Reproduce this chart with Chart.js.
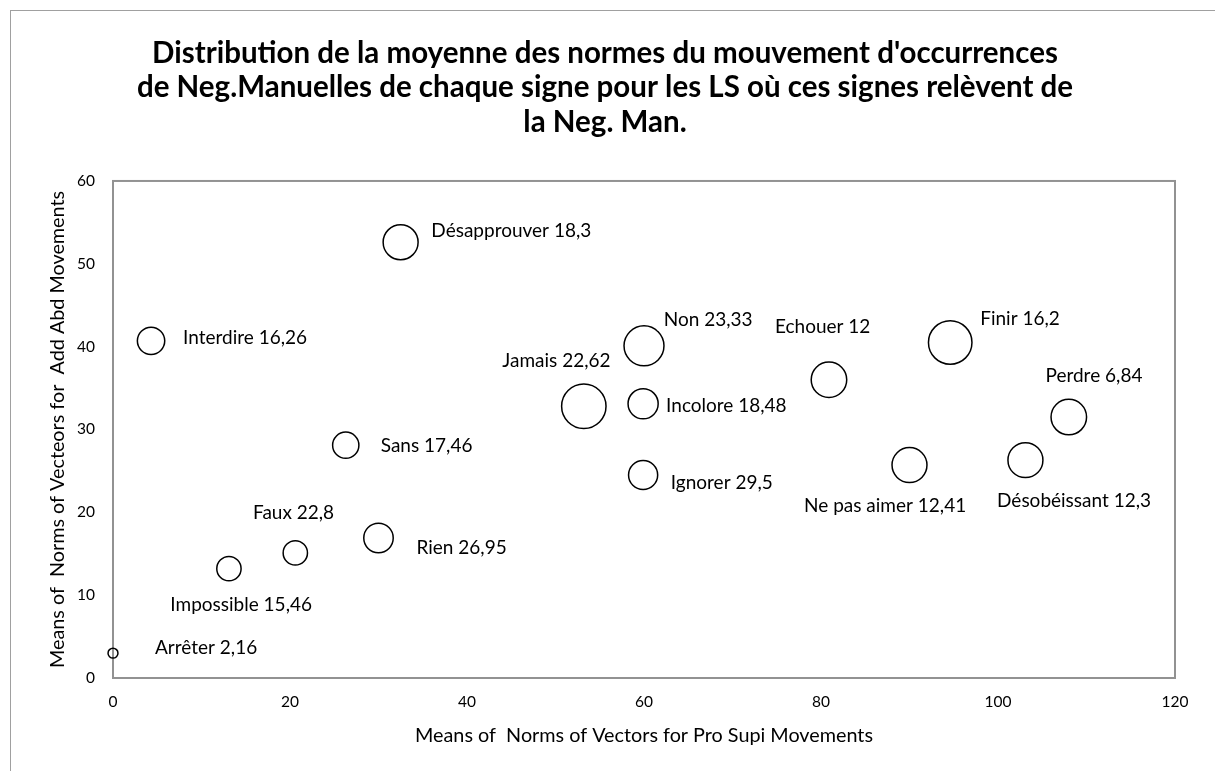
<!DOCTYPE html>
<html>
<head>
<meta charset="utf-8">
<script src="https://cdn.jsdelivr.net/npm/chart.js@4.4.1/dist/chart.umd.min.js"></script>
<style>
  html, body { margin: 0; padding: 0; background: #ffffff; }
  canvas { display: block; }
</style>
</head>
<body>
<canvas id="chart" width="1215" height="771"></canvas>
<script>
// Signs and their mean movement norms
const signes = ['Arrêter', 'Impossible', 'Faux', 'Rien', 'Sans', 'Interdire', 'Désapprouver', 'Jamais',
  'Non', 'Incolore', 'Ignorer', 'Echouer', 'Finir', 'Perdre', 'Ne pas aimer', 'Désobéissant'];
const valeursEtiquettes = ['2,16', '15,46', '22,8', '26,95', '17,46', '16,26', '18,3', '22,62',
  '23,33', '18,48', '29,5', '12', '16,2', '6,84', '12,41', '12,3'];
const proSupi = [0, 13.1, 20.6, 30.0, 26.3, 4.3, 32.5, 53.2, 60.0, 59.9, 59.9, 80.9, 94.6, 108.0, 90.0, 103.1];
const addAbd = [3.0, 13.2, 15.1, 16.9, 28.1, 40.7, 52.6, 32.8, 40.1, 33.1, 24.5, 36.0, 40.5, 31.5, 25.7, 26.3];
const tailles = [5, 30, 30, 44, 35, 38, 62, 100, 81, 46, 43, 64, 96, 64, 62, 62];
const xTicks = [0, 20, 40, 60, 80, 100, 120];
const yTicks = [0, 10, 20, 30, 40, 50, 60];

// Label placement relative to each bubble: [dx, dy, textAlign]
const placement = [
  [42, -5, 'left'], [-58.6, 36.3, 'left'], [-42.3, -40, 'left'], [38, 10, 'left'],
  [35, 0.7, 'left'], [32, -3, 'left'], [30.7, -11.7, 'left'], [26.7, -45.7, 'right'],
  [19.7, -26, 'left'], [23, 2, 'left'], [27.7, 7.7, 'left'], [-54, -52.6, 'left'],
  [30, -24, 'left'], [-23.3, -40.7, 'left'], [56.7, 41, 'right'], [-28.4, 41, 'left']
];

const FONT = 'Lato, "Open Sans", sans-serif';
const MAX_RADIUS = 22.2;
const maxTaille = Math.max(...tailles);

const points = signes.map((s, i) => ({
  x: proSupi[i],
  y: addAbd[i],
  r: MAX_RADIUS * Math.sqrt(tailles[i] / maxTaille)
}));

const backgroundAndFrames = {
  id: 'backgroundAndFrames',
  beforeDraw(chart) {
    const ctx = chart.ctx;
    ctx.save();
    ctx.fillStyle = '#ffffff';
    ctx.fillRect(0, 0, chart.width, chart.height);
    ctx.strokeStyle = '#a0a0a0';
    ctx.lineWidth = 1;
    ctx.strokeRect(10.5, 10.5, chart.width + 20, chart.height + 20);
    ctx.restore();
  },
  beforeDatasetsDraw(chart) {
    const { ctx, chartArea: a } = chart;
    ctx.save();
    ctx.strokeStyle = '#929292';
    ctx.lineWidth = 2;
    ctx.strokeRect(a.left, a.top, a.right - a.left, a.bottom - a.top);
    ctx.restore();
  }
};

const bubbleLabels = {
  id: 'bubbleLabels',
  afterDatasetsDraw(chart) {
    const ctx = chart.ctx;
    const meta = chart.getDatasetMeta(0);
    ctx.save();
    ctx.font = '19px ' + FONT;
    ctx.textBaseline = 'middle';
    meta.data.forEach((el, i) => {
      const [dx, dy, align] = placement[i];
      const text = signes[i] + ' ' + valeursEtiquettes[i];
      const w = ctx.measureText(text).width;
      const x = el.x + dx;
      const y = el.y + dy;
      const left = align === 'right' ? x - w : x;
      ctx.fillStyle = '#ffffff';
      ctx.fillRect(left - 6, y - 11, w + 12, 22);
      ctx.fillStyle = '#000000';
      ctx.textAlign = align;
      ctx.fillText(text, x, y);
    });
    ctx.restore();
  }
};

new Chart(document.getElementById('chart'), {
  type: 'bubble',
  data: {
    datasets: [{
      data: points,
      backgroundColor: 'rgba(0,0,0,0)',
      borderColor: '#000000',
      borderWidth: 1.5,
      clip: false
    }]
  },
  options: {
    responsive: false,
    devicePixelRatio: 1,
    animation: false,
    events: [],
    layout: { padding: { top: 0, left: 35, right: 40, bottom: 0 } },
    plugins: {
      legend: { display: false },
      tooltip: { enabled: false },
      title: {
        display: true,
        text: [
          "Distribution de la moyenne des normes du mouvement d'occurrences",
          'de Neg.Manuelles de chaque signe pour les LS où ces signes relèvent de',
          'la Neg. Man.'
        ],
        color: '#000000',
        font: { family: FONT, size: 29.5, weight: 'bold', lineHeight: 1.186 },
        padding: { top: 35.5, bottom: 40.5 }
      }
    },
    scales: {
      x: {
        type: 'linear',
        min: 0,
        max: 120,
        afterBuildTicks: s => { s.ticks = xTicks.map(v => ({ value: v })); },
        afterFit: s => { s.height = 93; },
        grid: { display: false, drawTicks: false },
        border: { display: false },
        ticks: { color: '#000000', padding: 15, font: { family: FONT, size: 15.5 } },
        title: {
          display: true,
          text: 'Means of  Norms of Vectors for Pro Supi Movements',
          color: '#000000',
          font: { family: FONT, size: 19.8 },
          padding: { top: 0, bottom: 24 }
        }
      },
      y: {
        type: 'linear',
        min: 0,
        max: 60,
        afterBuildTicks: s => { s.ticks = yTicks.map(v => ({ value: v })); },
        afterFit: s => { s.width = 78; },
        grid: { display: false, drawTicks: false },
        border: { display: false },
        ticks: { color: '#000000', padding: 18, font: { family: FONT, size: 15.5 } },
        title: {
          display: true,
          text: 'Means of  Norms of Vecteors for  Add Abd Movements',
          color: '#000000',
          font: { family: FONT, size: 19.8 },
          padding: { top: 10.6, bottom: 0 }
        }
      }
    }
  },
  plugins: [backgroundAndFrames, bubbleLabels]
});
</script>
</body>
</html>
